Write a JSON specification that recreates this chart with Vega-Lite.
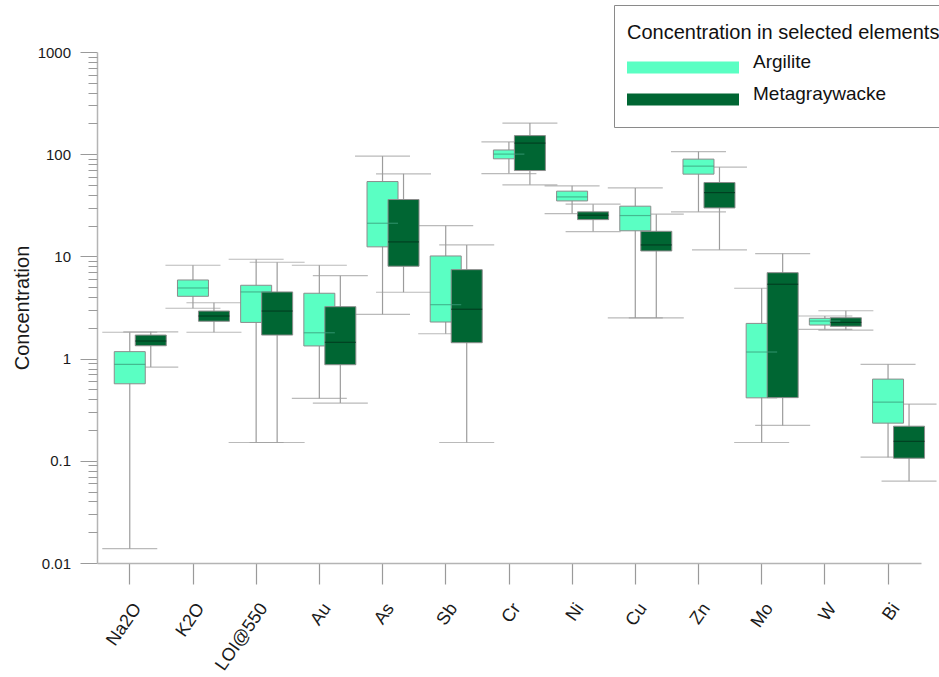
{
  "$schema": "https://vega.github.io/schema/vega-lite/v6.json",
  "width": 824,
  "height": 511,
  "autosize": {"type": "none"},
  "padding": {"left": 97, "top": 52, "right": 18, "bottom": 114},
  "background": "white",
  "config": {"view": {"stroke": null}, "font": "Liberation Sans"},
  "data": {
    "values": [
      {"element": "Na2O", "group": "Argilite", "min": 0.0138, "q1": 0.567, "median": 0.878, "q3": 1.17, "max": 1.81},
      {"element": "Na2O", "group": "Metagraywacke", "min": 0.827, "q1": 1.336, "median": 1.486, "q3": 1.70, "max": 1.83},
      {"element": "K2O", "group": "Argilite", "min": 3.11, "q1": 4.07, "median": 4.91, "q3": 5.88, "max": 8.19},
      {"element": "K2O", "group": "Metagraywacke", "min": 1.81, "q1": 2.32, "median": 2.61, "q3": 2.92, "max": 3.52},
      {"element": "LOI@550", "group": "Argilite", "min": 0.151, "q1": 2.26, "median": 4.49, "q3": 5.22, "max": 9.38},
      {"element": "LOI@550", "group": "Metagraywacke", "min": 0.151, "q1": 1.70, "median": 2.92, "q3": 4.49, "max": 8.77},
      {"element": "Au", "group": "Argilite", "min": 0.408, "q1": 1.33, "median": 1.79, "q3": 4.36, "max": 8.19},
      {"element": "Au", "group": "Metagraywacke", "min": 0.367, "q1": 0.871, "median": 1.443, "q3": 3.22, "max": 6.48},
      {"element": "As", "group": "Argilite", "min": 2.71, "q1": 12.4, "median": 21.1, "q3": 54.0, "max": 95.8},
      {"element": "As", "group": "Metagraywacke", "min": 4.46, "q1": 8.01, "median": 13.86, "q3": 36.0, "max": 64.3},
      {"element": "Sb", "group": "Argilite", "min": 1.75, "q1": 2.28, "median": 3.37, "q3": 10.1, "max": 20.0},
      {"element": "Sb", "group": "Metagraywacke", "min": 0.151, "q1": 1.43, "median": 3.04, "q3": 7.42, "max": 12.95},
      {"element": "Cr", "group": "Argilite", "min": 64.7, "q1": 90.1, "median": 100.2, "q3": 110, "max": 132},
      {"element": "Cr", "group": "Metagraywacke", "min": 50.2, "q1": 69.2, "median": 128.4, "q3": 152, "max": 201.6},
      {"element": "Ni", "group": "Argilite", "min": 26.2, "q1": 34.9, "median": 38.2, "q3": 43.5, "max": 49.0},
      {"element": "Ni", "group": "Metagraywacke", "min": 17.5, "q1": 22.9, "median": 25.3, "q3": 27.3, "max": 32.4},
      {"element": "Cu", "group": "Argilite", "min": 2.50, "q1": 17.8, "median": 25.1, "q3": 31.0, "max": 46.8},
      {"element": "Cu", "group": "Metagraywacke", "min": 2.50, "q1": 11.3, "median": 12.95, "q3": 17.6, "max": 25.9},
      {"element": "Zn", "group": "Argilite", "min": 27.3, "q1": 63.8, "median": 76.4, "q3": 89.5, "max": 106},
      {"element": "Zn", "group": "Metagraywacke", "min": 11.6, "q1": 29.8, "median": 42.1, "q3": 52.8, "max": 74.7},
      {"element": "Mo", "group": "Argilite", "min": 0.151, "q1": 0.413, "median": 1.16, "q3": 2.21, "max": 4.88},
      {"element": "Mo", "group": "Metagraywacke", "min": 0.222, "q1": 0.415, "median": 5.34, "q3": 6.93, "max": 10.65},
      {"element": "W", "group": "Argilite", "min": 1.93, "q1": 2.13, "median": 2.33, "q3": 2.48, "max": 2.61},
      {"element": "W", "group": "Metagraywacke", "min": 1.90, "q1": 2.07, "median": 2.26, "q3": 2.51, "max": 2.94},
      {"element": "Bi", "group": "Argilite", "min": 0.1085, "q1": 0.2336, "median": 0.375, "q3": 0.630, "max": 0.878},
      {"element": "Bi", "group": "Metagraywacke", "min": 0.0632, "q1": 0.106, "median": 0.155, "q3": 0.218, "max": 0.359}
    ]
  },
  "resolve": {"scale": {"y": "independent"}, "axis": {"y": "independent"}},
  "encoding": {
    "x": {
      "field": "element",
      "type": "nominal",
      "sort": ["Na2O", "K2O", "LOI@550", "Au", "As", "Sb", "Cr", "Ni", "Cu", "Zn", "Mo", "W", "Bi"],
      "scale": {"paddingInner": 0, "paddingOuter": 0.02},
      "axis": {
        "title": null,
        "domainColor": "#b4b4b4",
        "domainWidth": 1.5,
        "tickColor": "#9a9a9a",
        "tickWidth": 1.2,
        "tickSize": 21,
        "labelFont": "Liberation Sans",
        "labelFontSize": 18,
        "labelColor": "#1a1a1a",
        "labelAngle": -55,
        "labelAlign": "right",
        "labelBaseline": "middle",
        "labelOffset": 8,
        "labelPadding": 21,
        "labelOverlap": false,
        "labelBound": false,
        "labelFlush": false
      }
    },
    "xOffset": {
      "field": "group",
      "type": "nominal",
      "scale": {"domain": ["Argilite", "Metagraywacke"], "range": [21, 63], "paddingInner": 0, "paddingOuter": 0}
    }
  },
  "layer": [
    {
      "mark": {"type": "rule", "color": "#9c9c9c", "strokeWidth": 1.2},
      "encoding": {
        "y": {
          "field": "min",
          "type": "quantitative",
          "title": "Concentration",
          "scale": {"type": "log", "domain": [0.01, 1000], "nice": false, "zero": false},
          "axis": {
            "orient": "left",
            "values": [0.01, 0.1, 1, 10, 100, 1000],
            "grid": false,
            "domainColor": "#b4b4b4",
            "domainWidth": 1.5,
            "tickColor": "#9a9a9a",
            "tickWidth": 1,
            "tickSize": 17,
            "labelPadding": 9.5,
            "labelFont": "Liberation Sans",
            "labelFontSize": 15,
            "labelColor": "#1a1a1a",
            "labelOverlap": false,
            "labelBound": false,
            "labelFlush": false,
            "format": "~g",
            "titleFont": "Liberation Sans",
            "titleFontSize": 20,
            "titleFontWeight": "normal",
            "titleColor": "#1a1a1a",
            "titlePadding": 5
          }
        },
        "y2": {"field": "max"}
      }
    },
    {
      "mark": {"type": "tick", "color": "#9c9c9c", "size": 55, "thickness": 1.2},
      "encoding": {
        "y": {
          "field": "min",
          "type": "quantitative",
          "scale": {"type": "log", "domain": [0.01, 1000], "nice": false, "zero": false},
          "axis": {
            "orient": "left",
            "values": [0.02, 0.03, 0.04, 0.05, 0.06, 0.07, 0.08, 0.09, 0.2, 0.3, 0.4, 0.5, 0.6, 0.7, 0.8, 0.9, 2, 3, 4, 5, 6, 7, 8, 9, 20, 30, 40, 50, 60, 70, 80, 90, 200, 300, 400, 500, 600, 700, 800, 900],
            "grid": false,
            "domain": false,
            "labels": false,
            "title": null,
            "tickColor": "#9a9a9a",
            "tickWidth": 1,
            "tickSize": 9
          }
        }
      }
    },
    {
      "mark": {"type": "tick", "color": "#9c9c9c", "size": 55, "thickness": 1.2},
      "encoding": {
        "y": {
          "field": "max",
          "type": "quantitative",
          "scale": {"type": "log", "domain": [0.01, 1000], "nice": false, "zero": false},
          "axis": null
        }
      }
    },
    {
      "mark": {"type": "bar", "width": 31, "stroke": "#8c8c8c", "strokeWidth": 1, "opacity": 1},
      "encoding": {
        "y": {
          "field": "q1",
          "type": "quantitative",
          "scale": {"type": "log", "domain": [0.01, 1000], "nice": false, "zero": false},
          "axis": null
        },
        "y2": {"field": "q3"},
        "color": {
          "field": "group",
          "type": "nominal",
          "scale": {"domain": ["Argilite", "Metagraywacke"], "range": ["#5affc3", "#006633"]},
          "legend": {
            "orient": "none",
            "legendX": 517,
            "legendY": -47,
            "title": "Concentration in selected elements",
            "titleFont": "Liberation Sans",
            "titleFontSize": 20,
            "titleFontWeight": "normal",
            "titleColor": "#111111",
            "titleBaseline": "line-top",
            "titleLineHeight": 31,
            "titlePadding": 15,
            "titleLimit": 500,
            "labelFont": "Liberation Sans",
            "labelFontSize": 19,
            "labelColor": "#111111",
            "labelBaseline": "alphabetic",
            "labelOffset": 14,
            "labelLimit": 300,
            "symbolType": "M-1,-0.107L1,-0.107L1,0.107L-1,0.107Z",
            "symbolSize": 12544,
            "symbolStrokeWidth": 0,
            "symbolOpacity": 1,
            "clipHeight": 29,
            "rowPadding": 2,
            "padding": 13,
            "strokeColor": "#8a8a8a",
            "fillColor": "white",
            "cornerRadius": 0
          }
        }
      }
    },
    {
      "mark": {"type": "tick", "size": 31, "thickness": 1.2},
      "encoding": {
        "y": {
          "field": "median",
          "type": "quantitative",
          "scale": {"type": "log", "domain": [0.01, 1000], "nice": false, "zero": false},
          "axis": null
        },
        "color": {"condition": {"test": "datum.group == 'Argilite'", "value": "#3a9c7a"}, "value": "#00301a"}
      }
    }
  ]
}
